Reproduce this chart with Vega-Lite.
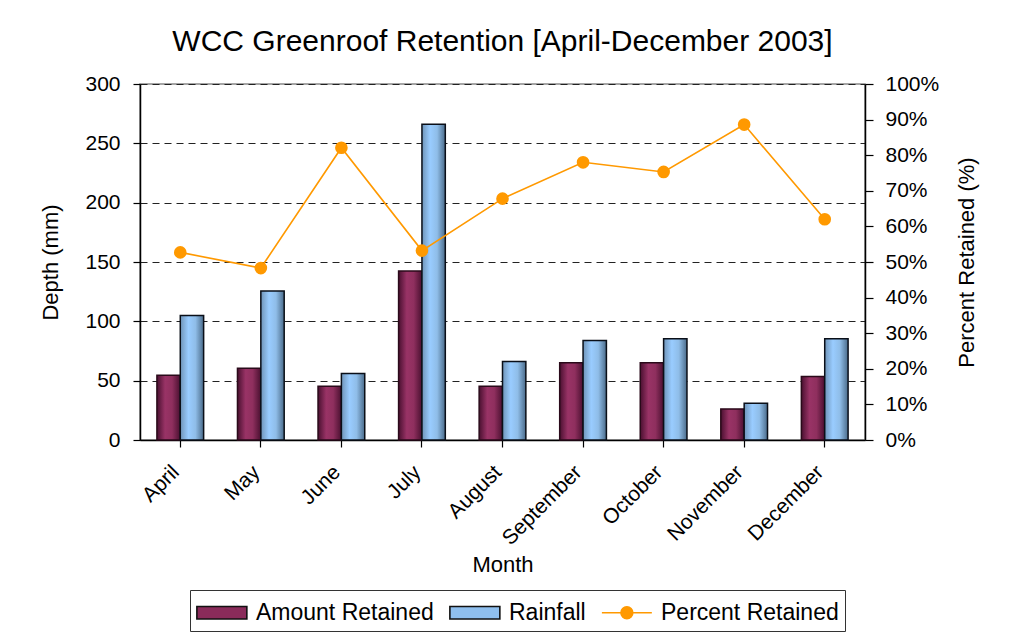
{
  "$schema": "https://vega.github.io/schema/vega-lite/v6.json",
  "width": 725,
  "height": 356,
  "autosize": {"type": "none"},
  "padding": {"left": 140, "top": 84, "right": 145, "bottom": 200},
  "background": "white",
  "title": {
    "text": "WCC Greenroof Retention [April-December 2003]",
    "font": "Liberation Sans",
    "fontSize": 30,
    "fontWeight": "normal",
    "color": "black",
    "anchor": "middle",
    "offset": 16
  },
  "config": {
    "font": "Liberation Sans",
    "view": {"stroke": "#888888", "strokeWidth": 1.5},
    "axis": {
      "labelFont": "Liberation Sans",
      "titleFont": "Liberation Sans",
      "labelFontSize": 21,
      "titleFontSize": 22,
      "titleFontWeight": "normal",
      "labelColor": "black",
      "titleColor": "black",
      "domainColor": "black",
      "tickColor": "black",
      "domainWidth": 1.5,
      "tickWidth": 1.2
    },
    "legend": {
      "title": null,
      "orient": "none",
      "legendX": 50,
      "legendY": 506,
      "direction": "horizontal",
      "columns": 3,
      "labelFontSize": 23,
      "labelFont": "Liberation Sans",
      "labelColor": "black",
      "labelOffset": 27,
      "symbolSize": 975,
      "symbolStrokeWidth": 1.6,
      "columnPadding": 12,
      "padding": 6,
      "strokeColor": "#333333",
      "labelLimit": 300
    }
  },
  "data": {
    "values": [
      {"Month": "April", "Amount Retained": 54.5, "Rainfall": 105, "Percent": 52.7},
      {"Month": "May", "Amount Retained": 60.5, "Rainfall": 125.5, "Percent": 48.3},
      {"Month": "June", "Amount Retained": 45.3, "Rainfall": 56, "Percent": 82.1},
      {"Month": "July", "Amount Retained": 142.4, "Rainfall": 266, "Percent": 53.2},
      {"Month": "August", "Amount Retained": 45.3, "Rainfall": 66.1, "Percent": 67.8},
      {"Month": "September", "Amount Retained": 65, "Rainfall": 83.9, "Percent": 78},
      {"Month": "October", "Amount Retained": 65, "Rainfall": 85.3, "Percent": 75.3},
      {"Month": "November", "Amount Retained": 26.2, "Rainfall": 31, "Percent": 88.6},
      {"Month": "December", "Amount Retained": 53.5, "Rainfall": 85.3, "Percent": 62}
    ]
  },
  "encoding": {
    "x": {
      "field": "Month",
      "type": "nominal",
      "sort": null,
      "scale": {"paddingInner": 0.42, "paddingOuter": 0.21},
      "axis": {
        "title": "Month",
        "labelAngle": -45,
        "labelAlign": "right",
        "labelBaseline": "top",
        "labelPadding": 14,
        "labelOffset": -12,
        "tickSize": 7,
        "titlePadding": 6
      }
    }
  },
  "layer": [
    {
      "transform": [{"fold": ["Amount Retained", "Rainfall"], "as": ["series", "value"]}],
      "encoding": {
        "y": {
          "field": "value",
          "type": "quantitative",
          "scale": {"domain": [0, 300]},
          "axis": {
            "title": "Depth (mm)",
            "values": [0, 50, 100, 150, 200, 250, 300],
            "grid": true,
            "gridDash": [7, 5],
            "gridColor": "#222222",
            "gridWidth": 1,
            "tickSize": 7,
            "labelPadding": 13,
            "titlePadding": 22
          }
        },
        "xOffset": {
          "field": "series",
          "type": "nominal",
          "scale": {"domain": ["Amount Retained", "Rainfall"], "paddingInner": 0, "paddingOuter": 0}
        }
      },
      "layer": [
        {
          "transform": [{"filter": "datum.series === 'Amount Retained'"}],
          "mark": {
            "type": "bar",
            "stroke": "#2a0a1a",
            "strokeWidth": 1.5,
            "color": {
              "gradient": "linear",
              "x1": 0, "x2": 1, "y1": 0, "y2": 0,
              "stops": [
                {"offset": 0, "color": "#4a1030"},
                {"offset": 0.35, "color": "#993366"},
                {"offset": 0.65, "color": "#8f2f5e"},
                {"offset": 1, "color": "#4a1030"}
              ]
            }
          }
        },
        {
          "transform": [{"filter": "datum.series === 'Rainfall'"}],
          "mark": {
            "type": "bar",
            "stroke": "#0a0f18",
            "strokeWidth": 1.5,
            "color": {
              "gradient": "linear",
              "x1": 0, "x2": 1, "y1": 0, "y2": 0,
              "stops": [
                {"offset": 0, "color": "#6f94b8"},
                {"offset": 0.35, "color": "#99ccff"},
                {"offset": 0.65, "color": "#8fbde8"},
                {"offset": 1, "color": "#4a6b8a"}
              ]
            }
          }
        }
      ]
    },
    {
      "encoding": {
        "y": {
          "field": "Percent",
          "type": "quantitative",
          "scale": {"domain": [0, 100]},
          "axis": {
            "orient": "right",
            "title": "Percent Retained (%)",
            "titleAngle": -90,
            "values": [0, 10, 20, 30, 40, 50, 60, 70, 80, 90, 100],
            "labelExpr": "datum.value + '%'",
            "grid": false,
            "tickSize": 8,
            "labelPadding": 12,
            "titlePadding": 40
          }
        }
      },
      "layer": [
        {
          "mark": {"type": "line", "color": "#FF9900", "strokeWidth": 1.6},
          "encoding": {}
        },
        {
          "mark": {"type": "point", "filled": true, "opacity": 1, "size": 160, "color": "#FF9900"},
          "encoding": {}
        },
        {
          "transform": [{"filter": "false"}],
          "mark": {"type": "point", "filled": true, "opacity": 1, "strokeWidth": 1.6},
          "encoding": {
            "fill": {
              "datum": "Percent Retained",
              "type": "nominal",
              "scale": {
                "domain": ["Amount Retained", "Rainfall", "Percent Retained"],
                "range": ["#8a2b5a", "#8fbfee", "#FF9900"]
              }
            },
            "stroke": {
              "datum": "Percent Retained",
              "type": "nominal",
              "scale": {
                "domain": ["Amount Retained", "Rainfall", "Percent Retained"],
                "range": ["#111111", "#111111", "#FF9900"]
              }
            },
            "shape": {
              "datum": "Percent Retained",
              "type": "nominal",
              "scale": {
                "domain": ["Amount Retained", "Rainfall", "Percent Retained"],
                "range": [
                  "M-1,-0.4H2.2V0.4H-1Z",
                  "M-1,-0.4H2.2V0.4H-1Z",
                  "M-1,0H0.22A0.38,0.38,0,1,1,0.98,0A0.38,0.38,0,1,1,0.22,0M0.98,0H2.2"
                ]
              }
            }
          }
        }
      ]
    }
  ],
  "resolve": {"scale": {"y": "independent"}}
}
